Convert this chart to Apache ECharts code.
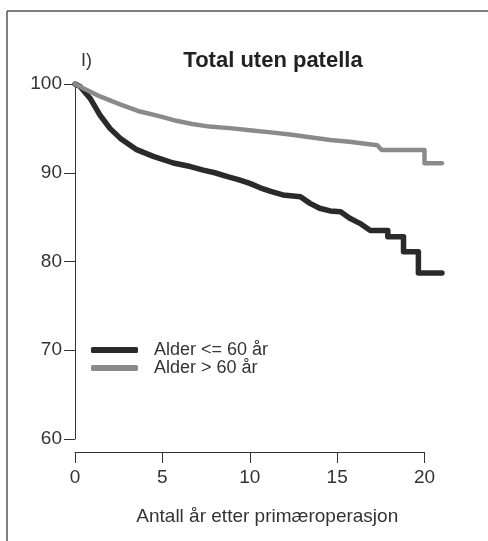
<!DOCTYPE html>
<html>
<head>
<meta charset="utf-8">
<script src="https://cdn.jsdelivr.net/npm/echarts@6/dist/echarts.min.js"></script>
<style>
  html, body { margin: 0; padding: 0; background: #fff; }
  #chart { width: 488px; height: 541px; }
</style>
</head>
<body>
<div id="chart"></div>
<script>
// data (years, % survival)
var youngT = [0, 0.3, 0.86, 1.43, 2.0, 2.58, 3.53, 4.48, 5.63, 6.6, 7.34, 8.0, 8.68, 9.4, 10.0, 10.6, 11.2, 11.9, 12.9, 13.45, 14.0, 14.6, 15.2, 15.7, 16.3, 16.9, 17.9, 17.9, 18.8, 18.8, 19.65, 19.65, 21.0];
var youngS = [100, 99.7, 98.4, 96.5, 95.0, 93.9, 92.6, 91.85, 91.1, 90.7, 90.3, 90.0, 89.6, 89.2, 88.8, 88.3, 87.9, 87.5, 87.3, 86.55, 86.0, 85.7, 85.6, 84.9, 84.3, 83.5, 83.5, 82.8, 82.8, 81.1, 81.1, 78.7, 78.7];
var oldT = [0, 0.5, 1.43, 2.58, 3.72, 4.87, 5.8, 6.7, 7.7, 9.0, 10.0, 11.2, 12.3, 13.45, 14.6, 15.7, 17.3, 17.55, 20.0, 20.0, 21.0];
var oldS = [100, 99.5, 98.6, 97.7, 96.9, 96.35, 95.85, 95.5, 95.2, 95.0, 94.8, 94.55, 94.3, 94.0, 93.7, 93.5, 93.1, 92.55, 92.55, 91.06, 91.06];
var seriesNames = ['Alder <= 60 år', 'Alder > 60 år'];
var xTicks = [0, 5, 10, 15, 20];
var yTicks = [60, 70, 80, 90, 100];

function pairs(t, s) {
  return t.map(function (v, i) { return [v, s[i]]; });
}

var font = 'Liberation Sans, Arial, sans-serif';
var ink = '#333';
// axis box covers 0..20, the curves run a bit past it, so they sit in a wider grid on the same scale
var pxPerYear = 349.5 / 20;
var dataMax = 21.5;

var myChart = echarts.init(document.getElementById('chart'));
myChart.setOption({
  animation: false,
  title: [
    { text: 'Total uten patella', left: 268, top: 45, textAlign: 'center',
      textStyle: { fontFamily: font, fontSize: 22, fontWeight: 'bold', color: '#222' } },
    { text: 'I)', left: 76, top: 47,
      textStyle: { fontFamily: font, fontSize: 18, fontWeight: 'normal', color: ink } }
  ],
  legend: {
    orient: 'vertical',
    left: 91, top: 341, padding: 0,
    itemWidth: 47, itemHeight: 6, itemGap: 0,
    icon: 'roundRect',
    textStyle: { fontFamily: font, fontSize: 18, color: ink, lineHeight: 17, padding: [0, 0, 0, 11] },
    data: seriesNames
  },
  grid: [
    { left: 75, top: 84, width: pxPerYear * 20, height: 355 },
    { left: 75, top: 84, width: pxPerYear * dataMax, height: 355 }
  ],
  xAxis: [{
    type: 'value', gridIndex: 0, min: xTicks[0], max: xTicks[xTicks.length - 1], interval: 5,
    offset: 13,
    name: 'Antall år etter primæroperasjon',
    nameLocation: 'middle', nameGap: 55,
    nameTextStyle: { fontFamily: font, fontSize: 19, color: ink, padding: [0, 0, 0, 35] },
    axisLine: { lineStyle: { color: ink, width: 1 } },
    axisTick: { length: 11, lineStyle: { color: ink } },
    axisLabel: { fontFamily: font, fontSize: 19, color: ink, margin: 16 },
    splitLine: { show: false }
  }, {
    type: 'value', gridIndex: 1, min: 0, max: dataMax, show: false
  }],
  yAxis: [{
    type: 'value', gridIndex: 0, min: yTicks[0], max: yTicks[yTicks.length - 1], interval: 10,
    axisLine: { show: true, lineStyle: { color: ink, width: 1 } },
    axisTick: { show: true, length: 11, lineStyle: { color: ink } },
    axisLabel: { fontFamily: font, fontSize: 19, color: ink, margin: 13 },
    splitLine: { show: false }
  }, {
    type: 'value', gridIndex: 1, min: yTicks[0], max: yTicks[yTicks.length - 1], show: false
  }],
  series: [
    {
      name: seriesNames[0], type: 'line', xAxisIndex: 1, yAxisIndex: 1,
      showSymbol: false, clip: false,
      color: '#2a2a2a',
      lineStyle: { color: '#2a2a2a', width: 5.5, cap: 'round', join: 'round' },
      data: pairs(youngT, youngS)
    },
    {
      name: seriesNames[1], type: 'line', xAxisIndex: 1, yAxisIndex: 1,
      showSymbol: false, clip: false,
      color: '#8a8a8a',
      lineStyle: { color: '#8a8a8a', width: 4.5, cap: 'round', join: 'round' },
      data: pairs(oldT, oldS)
    }
  ],
  graphic: [
    { type: 'line', shape: { x1: 7, y1: 11, x2: 488, y2: 11 }, style: { stroke: '#555', lineWidth: 1.5 } },
    { type: 'line', shape: { x1: 7, y1: 11, x2: 7, y2: 541 }, style: { stroke: '#555', lineWidth: 1.5 } }
  ]
});
</script>
</body>
</html>
